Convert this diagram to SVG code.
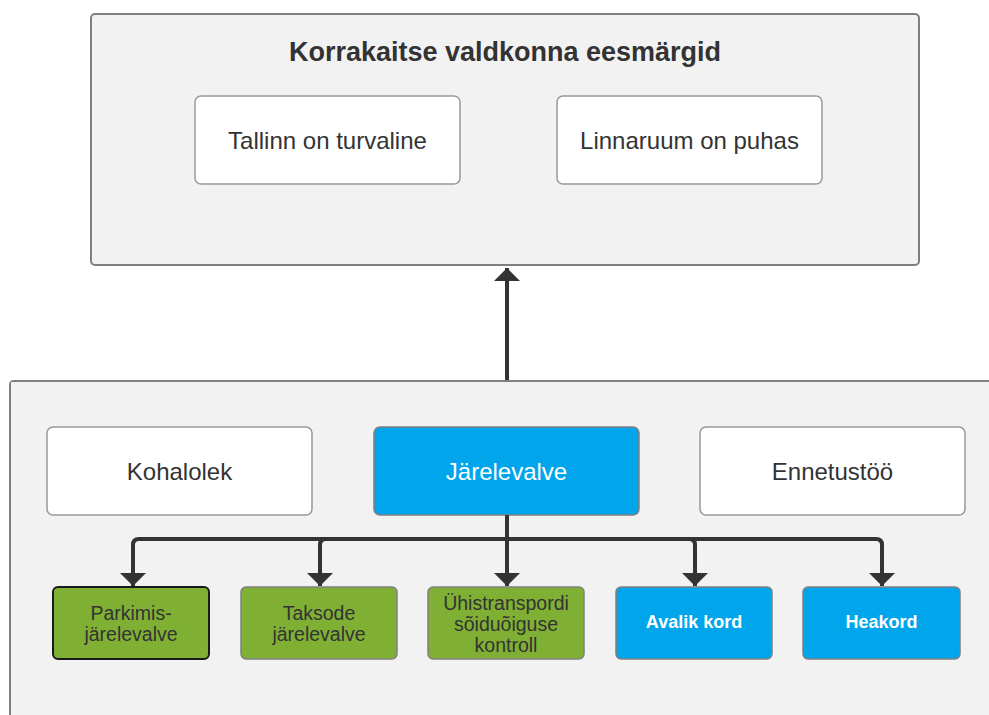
<svg xmlns="http://www.w3.org/2000/svg" width="989" height="715" viewBox="0 0 989 715">
<defs>
<marker id="ah" viewBox="0 0 13 26" markerWidth="13" markerHeight="26" refX="13" refY="13" orient="auto" markerUnits="userSpaceOnUse">
<path d="M0,0 L13,13 L0,26 Z" fill="#333333"/>
</marker>
<style>
.cont{fill:#f2f2f2;stroke:#7f7f7f;stroke-width:2}
.wbox{fill:#ffffff;stroke:#999999;stroke-width:1.5}
.bbox{fill:#00a5ec;stroke:#808080;stroke-width:1.5}
.gbox{fill:#80b033;stroke:#808080;stroke-width:1.5}
.t{font-family:"Liberation Sans",Arial,sans-serif;text-anchor:middle;dominant-baseline:central}
.big{font-size:24px;fill:#333333}
.title{font-size:27px;font-weight:bold;fill:#333333}
.sm{font-size:19.5px;fill:#333333}
.smw{font-size:18px;fill:#ffffff;font-weight:bold}
.con{fill:none;stroke:#333333;stroke-width:4}
</style>
</defs>
<rect width="989" height="715" fill="#ffffff"/>
<g id="goals">
<rect class="cont" x="91" y="14" width="828" height="251" rx="4"/>
<text class="t title" x="505" y="52">Korrakaitse valdkonna eesmärgid</text>
</g>
<g id="goal1">
<rect class="wbox" x="195" y="96" width="265" height="88" rx="6"/>
<text class="t big" x="327.5" y="140">Tallinn on turvaline</text>
</g>
<g id="goal2">
<rect class="wbox" x="557" y="96" width="265" height="88" rx="6"/>
<text class="t big" x="689.5" y="140">Linnaruum on puhas</text>
</g>
<g id="activities">
<path class="cont" d="M1000,381 L14,381 Q10,381 10,385 L10,725"/>
<rect x="11" y="382" width="990" height="340" fill="#f2f2f2"/>
</g>
<g id="kohalolek">
<rect class="wbox" x="47" y="427" width="265" height="88" rx="6"/>
<text class="t big" x="179.5" y="471">Kohalolek</text>
</g>
<g id="jarelevalve">
<rect class="bbox" x="374" y="427" width="265" height="88" rx="6"/>
<text class="t big" x="506.5" y="471" style="fill:#ffffff">Järelevalve</text>
</g>
<g id="ennetustoo">
<rect class="wbox" x="700" y="427" width="265" height="88" rx="6"/>
<text class="t big" x="832.5" y="471">Ennetustöö</text>
</g>
<g id="parkimis">
<rect class="gbox" x="53" y="587" width="156" height="72" rx="5" style="stroke:#1a1a1a;stroke-width:2"/>
<text class="t sm" x="131" y="613">Parkimis-</text>
<text class="t sm" x="131" y="634">järelevalve</text>
</g>
<g id="taksode">
<rect class="gbox" x="241" y="587" width="156" height="72" rx="5"/>
<text class="t sm" x="319" y="613">Taksode</text>
<text class="t sm" x="319" y="634">järelevalve</text>
</g>
<g id="yhistransport">
<rect class="gbox" x="428" y="587" width="156" height="72" rx="5"/>
<text class="t sm" x="506" y="603">Ühistranspordi</text>
<text class="t sm" x="506" y="624">sõiduõiguse</text>
<text class="t sm" x="506" y="645">kontroll</text>
</g>
<g id="avalik">
<rect class="bbox" x="616" y="587" width="156" height="72" rx="5"/>
<text class="t smw" x="694" y="622">Avalik kord</text>
</g>
<g id="heakord">
<rect class="bbox" x="803" y="587" width="157" height="72" rx="5"/>
<text class="t smw" x="881.5" y="622">Heakord</text>
</g>
<g id="connectors">
<path class="con" d="M507,380 L507,268" marker-end="url(#ah)"/>
<path class="con" d="M507,515 L507,586" marker-end="url(#ah)"/>
<path class="con" d="M507,539 L139,539 Q133,539 133,545 L133,586" marker-end="url(#ah)"/>
<path class="con" d="M507,539 L326,539 Q320,539 320,545 L320,586" marker-end="url(#ah)"/>
<path class="con" d="M507,539 L689,539 Q695,539 695,545 L695,586" marker-end="url(#ah)"/>
<path class="con" d="M507,539 L876,539 Q882,539 882,545 L882,586" marker-end="url(#ah)"/>
</g>
</svg>
